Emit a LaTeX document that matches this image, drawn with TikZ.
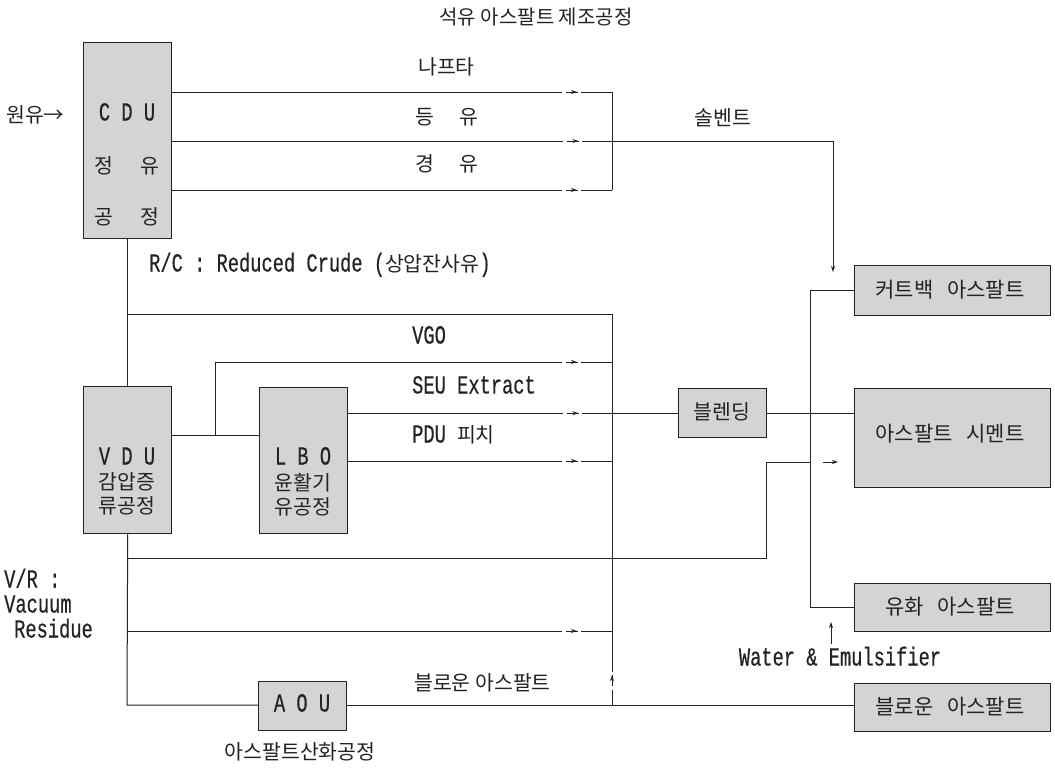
\documentclass[tikz,border=0pt]{standalone}
\usepackage{fontspec}
\usetikzlibrary{arrows.meta,decorations.markings}
\newfontfamily\kr{Noto Sans CJK KR}
\newfontfamily\lat[FakeStretch=0.72,FakeBold=0.5]{Liberation Mono}
\newcommand\krf{\kr\fontsize{20.5}{24}\selectfont}
\newcommand\krb{\kr\fontsize{21}{24}\selectfont}
\newcommand\ltf{\lat\fontsize{26}{28}\selectfont}
\definecolor{boxgray}{RGB}{212,212,212}
\definecolor{ink}{RGB}{35,35,35}
\begin{document}
\begin{tikzpicture}[x=1pt,y=-1pt,
  box/.style={draw=ink, line width=1.4pt, fill=boxgray, inner sep=0pt},
  ln/.style={draw=ink, line width=1pt},
  tip/.style={-{Stealth[length=6pt,width=4pt]}},
  arrowat/.style={postaction={decorate}, decoration={markings, mark=at position #1 with {\fill[white] (-15pt,-1.5pt) rectangle (-11pt,1.5pt); \fill[white] (0.5pt,-1.5pt) rectangle (3.5pt,1.5pt); \arrow{Stealth[length=6pt,width=4pt]}}}},
  kt/.style={font=\krf, inner sep=0pt, text=ink},
  kb/.style={font=\krb, inner sep=0pt, text=ink},
  lt/.style={font=\ltf, inner sep=0pt, text=ink, text height=14pt, text depth=3pt},
]
\useasboundingbox (0,0) rectangle (1055,768);

% title
\node[kt, font=\kr\fontsize{20}{22}\selectfont] (title) at (536,17) {석유 아스팔트 제조공정};

% boxes
\node[box, anchor=north west, minimum width=88pt, minimum height=196pt] (cdu) at (83,42) {};
\node[box, anchor=north west, minimum width=88pt, minimum height=147pt] (vdu) at (83,386) {};
\node[box, anchor=north west, minimum width=88pt, minimum height=146pt] (lbo) at (259,387) {};
\node[box, anchor=north west, minimum width=88pt, minimum height=49pt] (aou) at (258,681) {};
\node[box, anchor=north west, minimum width=88pt, minimum height=49pt] (blend) at (678,388) {};
\node[box, anchor=north west, minimum width=196pt, minimum height=50pt] (cut) at (854,265) {};
\node[box, anchor=north west, minimum width=196pt, minimum height=99pt] (cem) at (854,388) {};
\node[box, anchor=north west, minimum width=196pt, minimum height=48pt] (emu) at (854,583) {};
\node[box, anchor=north west, minimum width=196pt, minimum height=48pt] (blown) at (854,683) {};

% box texts
\node[lt] (cdut1) at (127,115) {C D U};
\node[kt] (cdut2) at (127,166) {정\hspace{27pt}유};
\node[kt] (cdut3) at (127,217) {공\hspace{27pt}정};
\node[lt] (vdut1) at (127,459) {V D U};
\node[kt] (vdut2) at (127,482) {감압증};
\node[kt] (vdut3) at (127,506) {류공정};
\node[lt] (lbot1) at (303,459) {L B O};
\node[kt] (lbot2) at (303,483) {윤활기};
\node[kt] (lbot3) at (303,507) {유공정};
\node[lt] (aout) at (302,706) {A O U};
\node[kt] (blendt) at (722,412) {블렌딩};
\node[kb] (cutt) at (950,290) {커트백\hspace{14pt}아스팔트};
\node[kb] (cemt) at (950,434) {아스팔트\hspace{14pt}시멘트};
\node[kb] (emut) at (950,607) {유화\hspace{14pt}아스팔트};
\node[kb] (blownt) at (950,707) {블로운\hspace{14pt}아스팔트};

% free labels
\node[kt, anchor=west] (crude) at (6,115) {원유→};
\node[kt, anchor=west] (naph) at (418,67) {나프타};
\node[kt, anchor=west] (kero) at (415,117) {등\hspace{25pt}유};
\node[kt, anchor=west] (gaso) at (415,164) {경\hspace{25pt}유};
\node[kt] (solv) at (723,118) {솔벤트};
\node[lt, anchor=west] (rc) at (149,266) {R/C : Reduced Crude (\krf 상압잔사유\ltf )};
\node[lt, anchor=west] (vgo) at (412,338) {VGO};
\node[lt, anchor=west] (seu) at (412,388) {SEU Extract};
\node[lt, anchor=west] (pdu) at (412,437) {PDU {\krf 피치}};
\node[kt, anchor=west] (blownl) at (414,683) {블로운 아스팔트};
\node[kt] (aoul) at (300,752) {아스팔트산화공정};
\node[lt, anchor=west] (vr1) at (4,582) {V/R :};
\node[lt, anchor=west] (vr2) at (4,607) {Vacuum};
\node[lt, anchor=west] (vr3) at (14,632) {Residue};
\node[lt] (water) at (840,660) {Water \& Emulsifier};

% coordinates
\coordinate (j1) at (612,92);
\coordinate (j2) at (612,141);
\coordinate (j3) at (612,190);
\coordinate (sol) at (833,141);
\coordinate (solend) at (833,272);
\coordinate (rc1) at (127,314);
\coordinate (rc2) at (612,314);
\coordinate (bv) at (612,705);
\coordinate (vg0) at (215,435);
\coordinate (vg1) at (215,362);
\coordinate (vg2) at (612,362);
\coordinate (pd) at (612,461);
\coordinate (st0) at (127,558);
\coordinate (st1) at (766,558);
\coordinate (st2) at (766,462);
\coordinate (st3) at (810,462);
\coordinate (ca0) at (823,462);
\coordinate (ca1) at (838,462);
\coordinate (vr0) at (127,631);
\coordinate (vre) at (612,631);
\coordinate (ao0) at (127,705);
\coordinate (bu0) at (810,290);
\coordinate (bu1) at (810,607);
\coordinate (wa0) at (831,644);
\coordinate (wa1) at (831,622);

% CDU products
\draw[ln, arrowat=-35pt] (cdu.east |- j1) -- (j1);
\draw[ln, arrowat=-35pt] (cdu.east |- j3) -- (j3);
\draw[ln] (j1) -- (j3);
\draw[ln, tip, arrowat=406pt] (cdu.east |- j2) -- (sol) -- (solend);

% CDU to VDU
\draw[ln] (cdu.south) -- (vdu.north);
\draw[ln] (rc1) -- (rc2) -- (bv);
\draw[ln, arrowat=30pt] (bv) -- (612,600);

% VDU to LBO and VGO
\draw[ln] (vdu.east |- vg0) -- (lbo.west |- vg0);
\draw[ln, arrowat=-35pt] (vg0) -- (vg1) -- (vg2);
\draw[ln, arrowat=230pt] (lbo.east |- blend.west) -- (blend.west);
\draw[ln, arrowat=-35pt] (lbo.east |- pd) -- (pd);
\draw[ln] (blend.east) -- (cem.west |- blend.east);

% VDU bottom
\draw[ln] (vdu.south) -- (ao0) -- (aou.west |- ao0);
\draw[ln] (aou.east |- ao0) -- (blown.west |- ao0);
\draw[ln] (st0) -- (st1) -- (st2) -- (st3);
\draw[ln, tip] (ca0) -- (ca1);
\draw[ln, arrowat=-35pt] (vr0) -- (vre);

% right bus
\draw[ln] (cut.west |- bu0) -- (bu0) -- (bu1) -- (emu.west |- bu1);
\draw[ln, tip] (wa0) -- (wa1);
\end{tikzpicture}
\end{document}
